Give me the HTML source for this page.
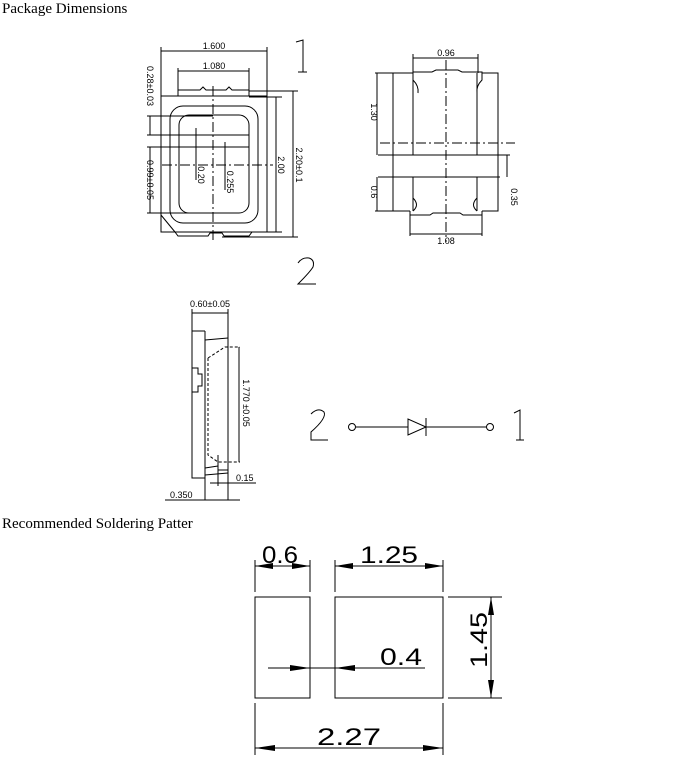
<!DOCTYPE html>
<html><head><meta charset="utf-8"><style>
html,body{margin:0;padding:0;background:#fff;width:680px;height:760px;overflow:hidden}
svg{position:absolute;left:0;top:0}
.t{font-family:"Liberation Serif",serif;font-size:15px;fill:#000}
.s{font-family:"Liberation Sans",sans-serif;font-size:9px;fill:#000}
</style></head><body>
<svg width="680" height="760" viewBox="0 0 680 760" fill="none" stroke="#000" stroke-width="1">
<text class="t" x="2" y="13" stroke="none">Package Dimensions</text>
<text class="t" x="2" y="528" stroke="none">Recommended Soldering Patter</text>

<g>
<path d="M161 96 H267 V232 H161 Z"/>
<path d="M178 96 V90 H200 L203 87 L206 90 H226 L229 87 L232 90 H249 V96"/>
<path d="M161 215 L175 232"/>
<path d="M175 232 L178 236 H208 L210 233 H222 L224 236 H249 L252 232"/>
<rect x="170" y="106" width="88" height="117" rx="13"/>
<rect x="179" y="115" width="70" height="98" rx="10"/>
<path d="M213 86 V241" stroke-dasharray="10,3,2,3"/>
<path d="M162 165 H273" stroke-dasharray="10,3,2,3"/>
<path d="M161 47 V96 M267 47 V96 M161 51 H267 M178 68 V90 M249 68 V90 M178 71 H249"/>
<path d="M147 116 H213 M147 135 H249 M147 147 H249 M147 213 H213 M150 116 V135 M150 147 V213"/>
<path d="M249 97 H282 M252 232 H282 M276 97 V232 M249 91 H298 M222 237 H298 M293 91 V237"/>
<path d="M196 128 V165 M225 142 V165 M196 165 V180 M225 165 V190"/>
<text class="s" x="214" y="49" text-anchor="middle" stroke="none">1.600</text>
<text class="s" x="214" y="69" text-anchor="middle" stroke="none">1.080</text>
<text class="s" stroke="none" transform="translate(147,86) rotate(90)" text-anchor="middle">0.28±0.03</text>
<text class="s" stroke="none" transform="translate(147,180) rotate(90)" text-anchor="middle">0.99±0.05</text>
<text class="s" stroke="none" transform="translate(198,175) rotate(90)" text-anchor="middle">0.20</text>
<text class="s" stroke="none" transform="translate(227,182) rotate(90)" text-anchor="middle">0.255</text>
<text class="s" stroke="none" transform="translate(278,165) rotate(90)" text-anchor="middle">2.00</text>
<text class="s" stroke="none" transform="translate(296,165) rotate(90)" text-anchor="middle">2.20±0.1</text>
<path d="M296 42 L303 40 V72 M298 72 H307"/>
<path d="M298 263 Q302 257 309 258 Q315 260 313 267 Q310 272 298 284 H316"/>
</g>

<g>
<path d="M393 73 H413 M482 73 H498 V211 H482 M410 211 H393 V73"/>
<path d="M413 73 V155 M477 73 V155 M413 177 V211 M477 177 V211"/>
<path d="M413 72 H432 L436 70 H458 L462 72 H482 V80 Q476 86 477 93 M413 80 Q419 86 418 93"/>
<path d="M378 155 H500 M378 177 H500"/>
<path d="M380 143 H515" stroke-dasharray="10,3,2,3"/>
<path d="M446 60 V242" stroke-dasharray="10,3,2,3"/>
<path d="M413 198 Q420 205 413 211 M477 198 Q470 205 477 211"/>
<path d="M410 211 V236 M482 211 V236 M410 215 H430 L433 213 H460 L463 215 H482 M410 234 H482"/>
<path d="M413 54 V73 M478 54 V73 M413 58 H478"/>
<path d="M375 73 H393 M377 73 V155 M377 177 V211 M375 211 H410"/>
<path d="M507 155 V177 M500 155 H510"/>
<text class="s" x="446" y="56" text-anchor="middle" stroke="none">0.96</text>
<text class="s" x="446" y="244" text-anchor="middle" stroke="none">1.08</text>
<text class="s" stroke="none" transform="translate(371,112) rotate(90)" text-anchor="middle">1.30</text>
<text class="s" stroke="none" transform="translate(371,192) rotate(90)" text-anchor="middle">0.6</text>
<text class="s" stroke="none" transform="translate(511,197) rotate(90)" text-anchor="middle">0.35</text>
</g>

<g>
<path d="M192 313 V331 M192 331 H205 M192 331 V478 H205"/>
<path d="M205 331 V500 M228 313 V500"/>
<path d="M205 340 L228 338 M205 475 L228 473 M205 468 L218 466"/>
<path d="M192 368 H198 V374 H202 V386 H198 V392 H192"/>
<path d="M208 358 L225 347 H240 M208 358 V455 L218 462 H240" stroke-dasharray="3,2"/>
<path d="M218 455 V470 H228"/>
<path d="M239 347 V462"/>
<path d="M192 309 V331 M228 309 V313 M192 313 H228"/>
<path d="M218 462 V486 M210 483 H256 M165 500 H240"/>
<text class="s" x="210" y="307" text-anchor="middle" stroke="none">0.60±0.05</text>
<text class="s" stroke="none" transform="translate(243,403) rotate(90)" text-anchor="middle">1.770 ±0.05</text>
<text class="s" x="236" y="481" stroke="none">0.15</text>
<text class="s" x="170" y="498" stroke="none">0.350</text>
</g>

<g>
<path d="M311 414 Q318 407 324 412 Q327 418 311 432 V440 H328"/>
<circle cx="352" cy="427" r="3.5"/>
<path d="M356 427 H408 M426 427 H486"/>
<path d="M408 419 V435 L426 427 Z M426 418 V436"/>
<circle cx="490" cy="427" r="3.5"/>
<path d="M514 413 L520 410 V440 M516 440 H524"/>
</g>

<g>
<rect x="255" y="597" width="55" height="101"/>
<rect x="335" y="597" width="108" height="101"/>
<path d="M255 560 V592 M310 560 V592 M335 560 V592 M443 560 V592 M255 566 H310 M335 566 H443"/>
<path d="M448 597 H502 M448 698 H502 M491 597 V698"/>
<path d="M268 668 H425"/>
<path d="M255 703 V755 M443 703 V755 M255 748 H443"/>
<g fill="#000" stroke="none">
<path d="M255 566 L273 563 V569 Z M310 566 L292 563 V569 Z"/>
<path d="M335 566 L353 563 V569 Z M443 566 L425 563 V569 Z"/>
<path d="M491 597 L488 615 H494 Z M491 698 L488 680 H494 Z"/>
<path d="M310 668 L290 665 V671 Z M335 668 L355 665 V671 Z"/>
<path d="M255 748 L275 745 V751 Z M443 748 L423 745 V751 Z"/>
</g>
<g font-family="Liberation Sans,sans-serif" font-size="24" stroke="none" fill="#000" text-anchor="middle">
<text x="280" y="563" textLength="36" lengthAdjust="spacingAndGlyphs">0.6</text>
<text x="389" y="563" textLength="58" lengthAdjust="spacingAndGlyphs">1.25</text>
<text x="401" y="665" textLength="42" lengthAdjust="spacingAndGlyphs">0.4</text>
<text x="349" y="745" textLength="64" lengthAdjust="spacingAndGlyphs">2.27</text>
<text transform="translate(487,640) rotate(-90)" textLength="56" lengthAdjust="spacingAndGlyphs">1.45</text>
</g>
</g>
</svg>
</body></html>
